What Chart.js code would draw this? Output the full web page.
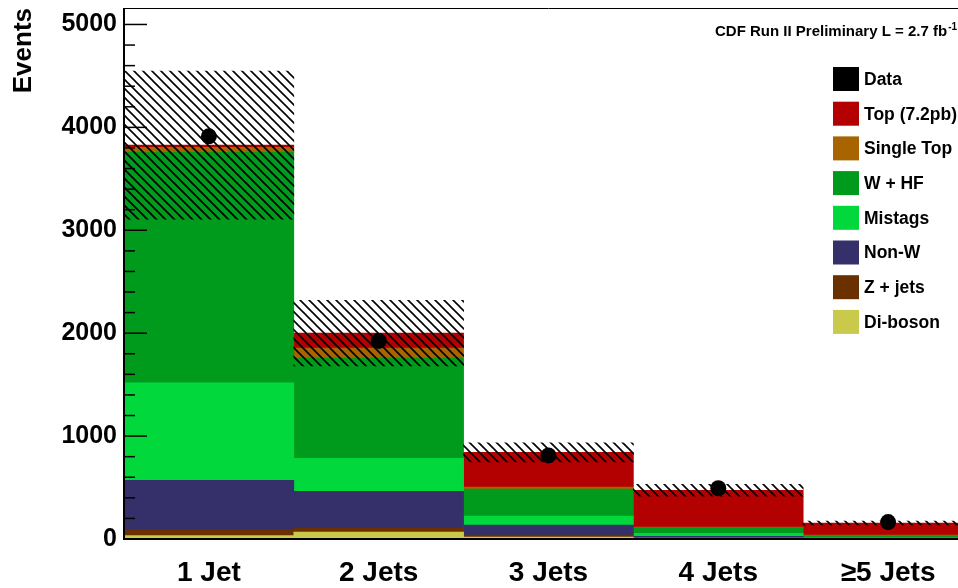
<!DOCTYPE html>
<html>
<head>
<meta charset="utf-8">
<script src="https://cdn.jsdelivr.net/npm/chart.js@4.4.1/dist/chart.umd.min.js"></script>
<style>
  html, body { margin: 0; padding: 0; background: #fff; overflow: hidden; }
  #wrap { width: 958px; height: 588px; overflow: hidden; position: relative; }
  canvas { display: block; }
</style>
</head>
<body>
<div id="wrap"><canvas id="c" width="990" height="588"></canvas></div>
<script>
// Jet-multiplicity bins
const categories = ['1 Jet', '2 Jets', '3 Jets', '4 Jets', '\u22655 Jets'];

// Background expectations per bin (events), stacked bottom to top
const diboson   = [33, 68, 19, 8, 3];
const zJets     = [54, 38, 20, 4, 1];
const nonW      = [483, 358, 97, 14, 4];
const mistags   = [947, 319, 87, 28, 8];
const wHF       = [2241, 975, 261, 58, 18];
const singleTop = [49, 97, 20, 4, 3];
const ttbar     = [20, 145, 338, 357, 118];

// Total uncertainty on the prediction (events)
const predError = [720, 319, 92, 58, 19];

// Observed events
const observed  = [3913, 1925, 812, 493, 164];

// Y-axis range, labelled ticks and minor tick step
const yMax = 5160;
const yTickValues = [0, 1000, 2000, 3000, 4000, 5000];
const yMinorStep = 200;

const FONT = "'Liberation Sans', Arial, Helvetica, sans-serif";

const components = [
  { label: 'Di-boson',    values: diboson,   color: '#c9c94b' },
  { label: 'Z + jets',    values: zJets,     color: '#6b3000' },
  { label: 'Non-W',       values: nonW,      color: '#35306a' },
  { label: 'Mistags',     values: mistags,   color: '#00d83c' },
  { label: 'W + HF',      values: wHF,       color: '#009a1c' },
  { label: 'Single Top',  values: singleTop, color: '#a86400' },
  { label: 'Top (7.2pb)', values: ttbar,     color: '#b30000' }
];

// Stack totals and the uncertainty band around them
const totals = categories.map((_, i) => components.reduce((s, c) => s + c.values[i], 0));
const band = totals.map((t, i) => [t - predError[i], t + predError[i]]);

// Diagonal hatch fill for the uncertainty band
function makeHatch() {
  const n = 9;
  const c = document.createElement('canvas');
  c.width = n; c.height = n;
  const g = c.getContext('2d');
  g.strokeStyle = '#000';
  g.lineWidth = 1.6;
  g.beginPath();
  g.moveTo(-1, -1); g.lineTo(n + 1, n + 1);
  g.moveTo(-1, n - 1); g.lineTo(1, n + 1);
  g.moveTo(n - 1, -1); g.lineTo(n + 1, 1);
  g.stroke();
  return g.createPattern(c, 'repeat');
}

const datasets = components.map(c => ({
  type: 'bar',
  label: c.label,
  data: c.values,
  backgroundColor: c.color,
  borderWidth: 0,
  xAxisID: 'x',
  yAxisID: 'y',
  stack: 'bkg',
  order: 3,
  categoryPercentage: 1,
  barPercentage: 1
}));

// Floating band over the full bin width, kept out of the background stack
datasets.push({
  type: 'bar',
  label: 'Uncertainty',
  data: band,
  backgroundColor: makeHatch(),
  borderWidth: 0,
  xAxisID: 'x',
  yAxisID: 'y',
  stack: 'band',
  grouped: false,
  order: 2,
  categoryPercentage: 1,
  barPercentage: 1
});

datasets.push({
  type: 'line',
  label: 'Data',
  data: observed,
  showLine: false,
  pointRadius: 8,
  pointHoverRadius: 8,
  pointBackgroundColor: '#000',
  pointBorderColor: '#000',
  pointBorderWidth: 0,
  xAxisID: 'x',
  yAxisID: 'y',
  stack: 'data',
  order: 1
});

// Inward axis ticks, frame, legend and run label
const decor = {
  id: 'decor',
  afterDatasetsDraw(chart) {
    const { ctx, chartArea: a, scales: { y } } = chart;
    ctx.save();
    ctx.strokeStyle = '#000';
    ctx.lineWidth = 1.5;
    for (let v = 0; v <= yMax; v += yMinorStep) {
      const py = y.getPixelForValue(v);
      const len = yTickValues.includes(v) ? 23 : 11;
      ctx.beginPath();
      ctx.moveTo(a.left, py);
      ctx.lineTo(a.left + len, py);
      ctx.stroke();
    }
    ctx.lineWidth = 2;
    ctx.beginPath();
    ctx.moveTo(a.left, a.top);
    ctx.lineTo(a.left, a.bottom);
    ctx.lineTo(a.right, a.bottom);
    ctx.stroke();
    ctx.lineWidth = 1;
    ctx.beginPath();
    ctx.moveTo(a.left, a.top + 0.5);
    ctx.lineTo(a.right, a.top + 0.5);
    ctx.stroke();
    ctx.restore();
  },
  afterDraw(chart) {
    const ctx = chart.ctx;
    ctx.save();
    // run label
    ctx.fillStyle = '#000';
    ctx.textBaseline = 'alphabetic';
    ctx.textAlign = 'left';
    ctx.font = 'bold 15px ' + FONT;
    const main = 'CDF Run II Preliminary L = 2.7 fb';
    ctx.fillText(main, 715, 36);
    const w = ctx.measureText(main).width;
    ctx.font = 'bold 10px ' + FONT;
    ctx.fillText('-1', 715 + w + 1, 30);

    // legend
    const entries = [{ label: 'Data', color: '#000' }].concat(components.slice().reverse());
    const bx = 833, bw = 26, bh = 24, top0 = 67, step = 34.7;
    ctx.font = 'bold 17.5px ' + FONT;
    ctx.textBaseline = 'middle';
    entries.forEach((e, i) => {
      const by = top0 + i * step;
      ctx.fillStyle = e.color;
      ctx.fillRect(bx, by, bw, bh);
      ctx.fillStyle = '#000';
      ctx.fillText(e.label, bx + 31, by + bh / 2 + 1);
    });
    ctx.restore();
  }
};

new Chart(document.getElementById('c'), {
  data: { labels: categories, datasets },
  options: {
    responsive: false,
    animation: false,
    devicePixelRatio: 1,
    layout: { padding: { left: 0, right: 17, top: 4, bottom: 0 } },
    plugins: { legend: { display: false }, tooltip: { enabled: false } },
    scales: {
      x: {
        type: 'category',
        stacked: true,
        offset: true,
        grid: { display: false, drawTicks: false },
        border: { display: false },
        ticks: {
          color: '#000',
          font: { family: FONT, size: 28, weight: 'bold' },
          padding: 17,
          maxRotation: 0,
          autoSkip: false
        },
        afterFit(s) { s.height = 49; s.paddingLeft = 0; s.paddingRight = 0; }
      },
      y: {
        type: 'linear',
        stacked: true,
        min: 0,
        max: yMax,
        grid: { display: false, drawTicks: false },
        border: { display: false },
        afterBuildTicks(s) { s.ticks = yTickValues.map(v => ({ value: v })); },
        ticks: {
          color: '#000',
          font: { family: FONT, size: 25, weight: 'bold' },
          padding: 7,
          callback: v => String(v)
        },
        title: {
          display: true,
          text: 'Events',
          align: 'end',
          color: '#000',
          font: { family: FONT, size: 26, weight: 'bold' },
          padding: { top: 8, bottom: 0 }
        },
        afterFit(s) { s.width = 124; s.paddingTop = 0; s.paddingBottom = 0; }
      }
    }
  },
  plugins: [decor]
});
</script>
</body>
</html>
